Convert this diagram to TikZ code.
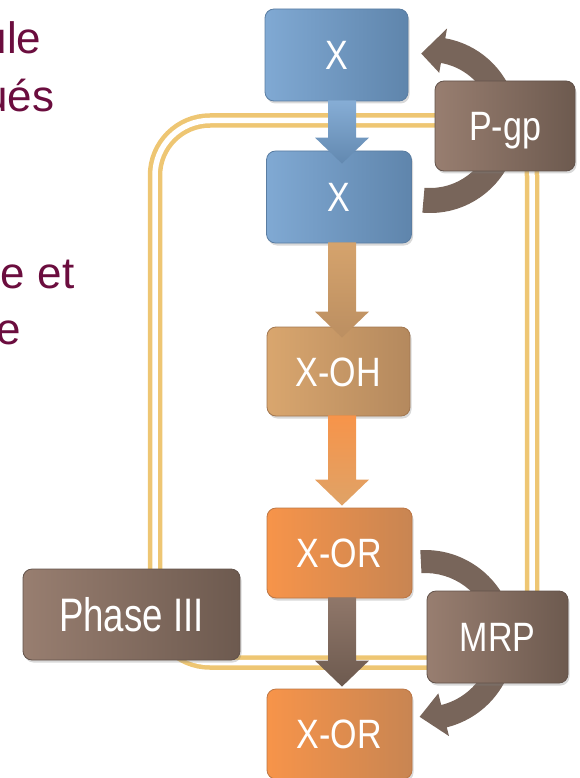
\documentclass[tikz,border=0pt]{standalone}
\usepackage{fontspec}
\setmainfont{Liberation Sans}
\newfontfamily\boxfont[FakeStretch=0.83]{Liberation Sans}
\newfontfamily\phasefont[FakeStretch=0.78]{Liberation Sans}
\usetikzlibrary{calc,shadows}
\definecolor{blueL}{HTML}{80A9D3}
\definecolor{blueR}{HTML}{5F85AC}
\definecolor{blueD}{HTML}{5A7DA2}
\definecolor{tanL}{HTML}{D9A66E}
\definecolor{tanR}{HTML}{B4895E}
\definecolor{tanD}{HTML}{A27750}
\definecolor{orL}{HTML}{F7944A}
\definecolor{orR}{HTML}{C88552}
\definecolor{orD}{HTML}{BC7644}
\definecolor{brL}{HTML}{987E70}
\definecolor{brR}{HTML}{6D5A4F}
\definecolor{brD}{HTML}{62524A}
\definecolor{band}{HTML}{78655A}
\definecolor{gold}{HTML}{EEC673}
\definecolor{maroon}{HTML}{6B0D3E}
\newcommand\blockarrow[4]{%
  \path[#4] let \p1=(#1.south), \p2=(#2.north) in
    (328pt,\y1+1pt) -- (356pt,\y1+1pt) -- (356pt,\y2-#3pt+26pt) -- (369pt,\y2-#3pt+26pt)
    -- (342pt,\y2-#3pt) -- (315pt,\y2-#3pt+26pt) -- (328pt,\y2-#3pt+26pt) -- cycle;}
\begin{document}
\begin{tikzpicture}[x=1pt,y=-1pt,
  box/.style={draw, line width=0.8pt, rounded corners=9pt, text=white, inner sep=0pt,
    text height=29pt, text depth=0pt,
    drop shadow={opacity=0.3, shadow xshift=1.5pt, shadow yshift=-2.5pt},
    font=\boxfont\fontsize{41}{45}\selectfont},
  bluebox/.style={box, left color=blueL, right color=blueR, draw=blueD},
  tanbox/.style={box, left color=tanL, right color=tanR, draw=tanD},
  orbox/.style={box, left color=orL, right color=orR, draw=orD},
  brbox/.style={box, left color=brL, right color=brR, draw=brD},
  side/.style={text=maroon, font=\fontsize{44}{50}\selectfont, anchor=base east, inner sep=0pt},
  bandfill/.style={fill=band}]
\useasboundingbox (0,0) rectangle (580,778);
\clip (0,0) rectangle (580,778);

% left cut-off text
\node[side] (t1) at (41.5,54) {ule};
\node[side] (t2) at (54.5,112) {ués};
\node[side] (t3) at (74.5,288) {e et};
\node[side] (t4) at (21.5,344) {e};

% double gold frame
\draw[gold, line width=4.5pt, double=white, double distance=5.5pt, rounded corners=55pt]
  (155,120.5) rectangle (532,662.5);

% curved transport bands
\coordinate (cp) at (430,125);
\coordinate (cm) at (425,640);
\fill[bandfill] ($(cp)+(-95:88pt)$) arc[start angle=-95, end angle=80, radius=88pt]
  -- ($(cp)+(80:98pt)$) -- ($(cp)+(97:72pt)$) -- ($(cp)+(80:53pt)$)
  -- ($(cp)+(80:63pt)$) arc[start angle=80, end angle=-95, radius=63pt] -- cycle;
\fill[bandfill] ($(cm)+(93:90pt)$) arc[start angle=93, end angle=-76, radius=90pt]
  -- ($(cm)+(-76:99pt)$) -- ($(cm)+(-94:77pt)$) -- ($(cm)+(-76:55pt)$)
  -- ($(cm)+(-76:67pt)$) arc[start angle=-76, end angle=93, radius=67pt] -- cycle;

% boxes
\node[bluebox, minimum width=143pt, minimum height=92pt] (x1) at (336.5,55) {X};
\node[bluebox, minimum width=145pt, minimum height=92pt] (x2) at (339,197) {X};
\node[tanbox, minimum width=143pt, minimum height=89pt] (xoh) at (338.5,371.5) {X-OH};
\node[orbox, minimum width=145pt, minimum height=90pt] (xor1) at (339.5,553) {X-OR};
\node[orbox, minimum width=145pt, minimum height=90pt] (xor2) at (339.5,734) {X-OR};
\node[brbox, minimum width=140pt, minimum height=90pt] (pgp) at (505,126) {P-gp};
\node[brbox, minimum width=141pt, minimum height=92pt] (mrp) at (497.5,637) {MRP};
\node[brbox, minimum width=217pt, minimum height=91pt, text height=34pt,
  font=\phasefont\fontsize{47}{50}\selectfont] (ph) at (131.5,614.5) {Phase III};

% block arrows
\blockarrow{x1}{x2}{13}{top color=blueL!95!white, bottom color=blueR!90!blueL}
\blockarrow{x2}{xoh}{11}{top color=tanL!90!tanR, bottom color=tanR!80!tanL}
\blockarrow{xoh}{xor1}{-2}{top color=orL, bottom color=tanL!80!orL}
\blockarrow{xor1}{xor2}{-2}{top color=brL!80!brR, bottom color=brR}
\end{tikzpicture}
\end{document}
